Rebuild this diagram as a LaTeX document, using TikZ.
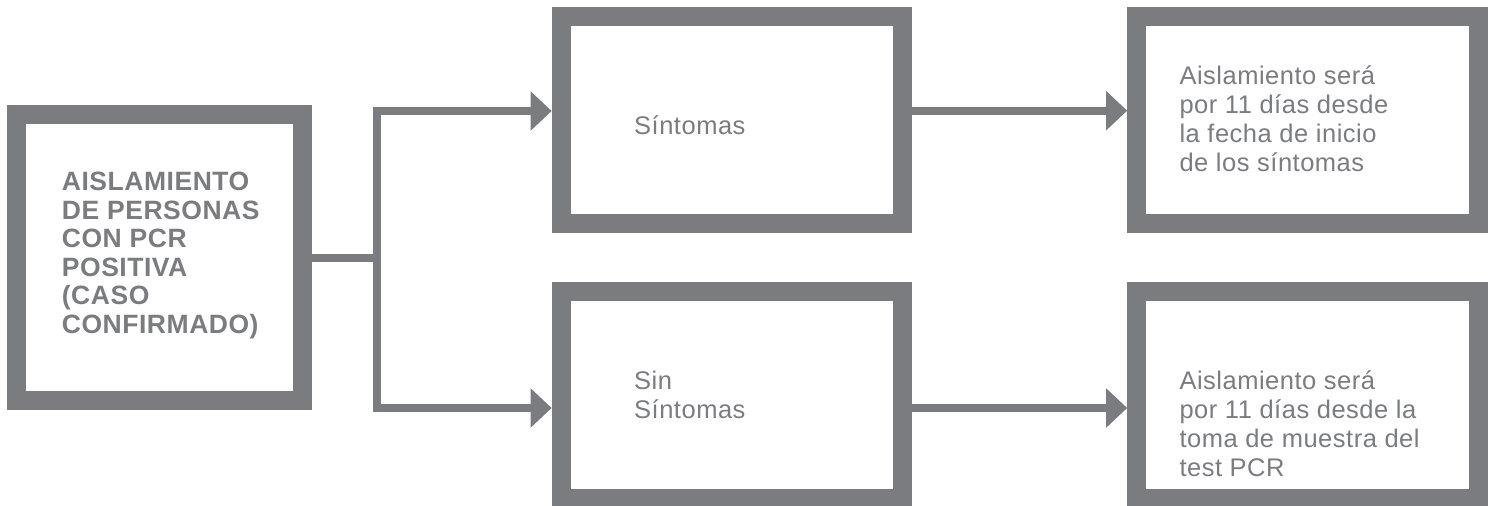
\documentclass[tikz,border=0pt]{standalone}
\usepackage{fontspec}
\setmainfont[LetterSpace=2]{Liberation Sans}
\usetikzlibrary{arrows.meta}
\definecolor{boxgray}{RGB}{122,124,128}
\begin{document}
\begin{tikzpicture}[x=1pt,y=-1pt,
  box/.style={draw=boxgray, line width=19pt, rectangle, inner sep=0pt},
  smallbox/.style={box, minimum width=341.6pt, minimum height=207pt},
  lbl/.style={anchor=base west, inner sep=0pt, align=left, text=boxgray,
    font=\fontsize{25.5}{29}\selectfont},
  boldlbl/.style={lbl, font=\fontsize{26.5}{28.5}\selectfont\bfseries},
  conn/.style={draw=boxgray, line width=8pt},
  arr/.style={-{Triangle[length=21pt,width=38pt]}}]
\useasboundingbox (0,0) rectangle (1497,506);
% boxes
\node[box, minimum width=285.4pt, minimum height=286pt] (L) at (159.5,257.5) {};
\node[smallbox] (M1) at (732,120.3) {};
\node[smallbox] (M2) at (732,394.7) {};
\node[smallbox] (R1) at (1307.5,120.3) {};
\node[smallbox] (R2) at (1307.5,394.7) {};
% texts (base anchor = baseline of last line)
\node[boldlbl] (Lt) at (61.7,333) {AISLAMIENTO\\DE PERSONAS\\CON PCR\\POSITIVA\\(CASO\\CONFIRMADO)};
\node[lbl] (M1t) at (634,134) {Síntomas};
\node[lbl] (M2t) at (634,418) {Sin\\Síntomas};
\node[lbl] (R1t) at (1179.3,171.3) {Aislamiento será\\por 11 días desde\\la fecha de inicio\\de los síntomas};
\node[lbl] (R2t) at (1179.3,476) {Aislamiento será\\por 11 días desde la\\toma de muestra del\\test PCR};
% connectors
\coordinate (J) at (377,257.5);
\draw[conn] (L.east) -- (J);
\draw[conn,arr] (J) |- ([yshift=9.3pt]M1.west);
\draw[conn,arr] (J) |- ([yshift=-13.3pt]M2.west);
\draw[conn,arr] ([yshift=9.6pt]M1.east) -- ([yshift=9.6pt]R1.west);
\draw[conn,arr] ([yshift=-13.3pt]M2.east) -- ([yshift=-13.3pt]R2.west);
\end{tikzpicture}
\end{document}
